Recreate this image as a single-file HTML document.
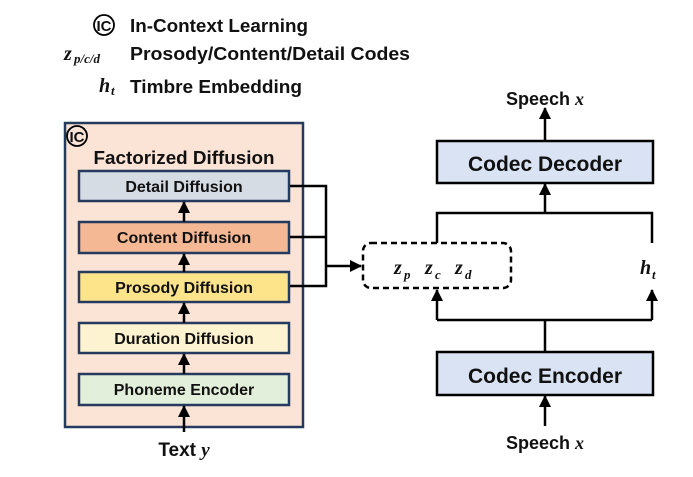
<!DOCTYPE html>
<html><head><meta charset="utf-8"><style>
html,body{margin:0;padding:0;background:#fff;}
svg{display:block;}
text{font-family:"Liberation Sans",sans-serif;font-weight:bold;fill:#111;}
.m{font-family:"Liberation Serif",serif;font-style:italic;font-weight:bold;}
</style></head><body>
<svg width="693" height="477" viewBox="0 0 693 477" xmlns="http://www.w3.org/2000/svg">
<defs>
<marker id="b" markerWidth="12" markerHeight="12" refX="11" refY="6" orient="auto" markerUnits="userSpaceOnUse"><path d="M0,0 L12,6 L0,12 z" fill="#000"/></marker></defs>
<!-- legend -->
<circle cx="104" cy="25" r="10" fill="none" stroke="#000" stroke-width="1.8"/>
<text x="104" y="31" font-size="15" text-anchor="middle">IC</text>
<text x="130" y="32" font-size="18.5" textLength="178" lengthAdjust="spacingAndGlyphs">In-Context Learning</text>
<text x="64" y="60" font-size="20" class="m">z</text><text x="74" y="63" font-size="13" class="m">p/c/d</text>
<text x="130" y="60" font-size="18.5" textLength="280" lengthAdjust="spacingAndGlyphs">Prosody/Content/Detail Codes</text>
<text x="99" y="92" font-size="20" class="m">h</text><text x="111" y="95" font-size="13" class="m">t</text>
<text x="130" y="93" font-size="18.5" textLength="172" lengthAdjust="spacingAndGlyphs">Timbre Embedding</text>
<!-- left box -->
<rect x="65" y="123" width="238" height="304" fill="#fbe3d6" stroke="#243a5e" stroke-width="2.5"/>
<circle cx="77" cy="136" r="10" fill="none" stroke="#000" stroke-width="1.8"/>
<text x="77" y="142" font-size="15" text-anchor="middle">IC</text>
<text x="184" y="164" font-size="18.5" text-anchor="middle" textLength="181" lengthAdjust="spacingAndGlyphs">Factorized Diffusion</text>
<g stroke="#243a5e" stroke-width="2.5">
<rect x="79" y="171" width="210" height="30" fill="#d6dce4"/>
<rect x="79" y="222" width="210" height="31" fill="#f4b894"/>
<rect x="79" y="272" width="210" height="30" fill="#fde38a"/>
<rect x="79" y="323" width="210" height="30" fill="#fef3d0"/>
<rect x="79" y="374" width="210" height="31" fill="#e2efda"/>
</g>
<g font-size="16" text-anchor="middle">
<text x="184" y="192">Detail Diffusion</text>
<text x="184" y="243">Content Diffusion</text>
<text x="184" y="293">Prosody Diffusion</text>
<text x="184" y="344">Duration Diffusion</text>
<text x="184" y="395">Phoneme Encoder</text>
</g>
<g stroke="#000" stroke-width="2.5" fill="none">
<line x1="184" y1="222" x2="184" y2="202" marker-end="url(#b)"/>
<line x1="184" y1="272" x2="184" y2="254" marker-end="url(#b)"/>
<line x1="184" y1="323" x2="184" y2="303" marker-end="url(#b)"/>
<line x1="184" y1="374" x2="184" y2="354" marker-end="url(#b)"/>
<line x1="184" y1="432" x2="184" y2="406" marker-end="url(#b)"/>
<polyline points="290,186 326,186 326,286 290,286"/>
<line x1="290" y1="237" x2="326" y2="237"/>
<line x1="326" y1="266" x2="361" y2="266" marker-end="url(#b)"/>
<rect x="363" y="243" width="148" height="45" rx="8" stroke-dasharray="6,4"/>
<rect x="437" y="141" width="216" height="42" fill="#dae3f3"/>
<rect x="437" y="352" width="216" height="43" fill="#dae3f3"/>
<line x1="545" y1="141" x2="545" y2="108" marker-end="url(#b)"/>
<line x1="545" y1="213" x2="545" y2="184" marker-end="url(#b)"/>
<polyline points="437,243 437,213 652,213 652,243"/>
<polyline points="437,320 652,320"/>
<line x1="437" y1="320" x2="437" y2="290" marker-end="url(#b)"/>
<line x1="652" y1="320" x2="652" y2="290" marker-end="url(#b)"/>
<line x1="545" y1="320" x2="545" y2="352"/>
<line x1="545" y1="426" x2="545" y2="396" marker-end="url(#b)"/>
</g>
<text x="184" y="456" font-size="19" text-anchor="middle">Text <tspan class="m">y</tspan></text>
<text x="545" y="105" font-size="18" text-anchor="middle">Speech <tspan class="m">x</tspan></text>
<text x="545" y="449" font-size="18" text-anchor="middle">Speech <tspan class="m">x</tspan></text>
<text x="545" y="171" font-size="21" text-anchor="middle">Codec Decoder</text>
<text x="545" y="383" font-size="21" text-anchor="middle">Codec Encoder</text>
<text x="394" y="274" font-size="20" class="m">z</text><text x="404" y="279" font-size="13" class="m">p</text>
<text x="425" y="274" font-size="20" class="m">z</text><text x="435" y="279" font-size="13" class="m">c</text>
<text x="455" y="274" font-size="20" class="m">z</text><text x="465" y="279" font-size="13" class="m">d</text>
<text x="640" y="274" font-size="20" class="m">h</text><text x="652" y="279" font-size="13" class="m">t</text>
</svg>
</body></html>
